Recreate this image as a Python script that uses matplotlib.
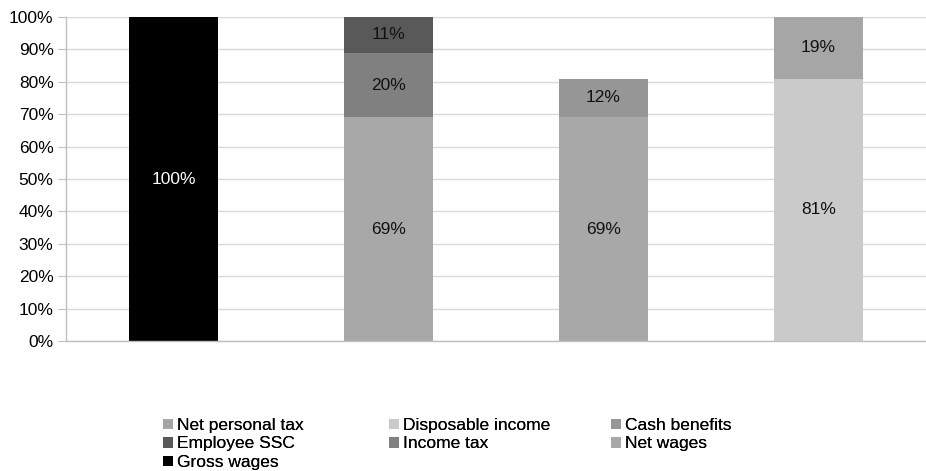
import numpy as np
import matplotlib.pyplot as plt

plt.rcParams['font.family'] = ['Liberation Sans', 'DejaVu Sans']

categories = ["Gross", "Taxes", "Benefits", "Disposable"]
series = ["Gross wages", "Net wages", "Income tax", "Employee SSC",
          "Cash benefits", "Disposable income", "Net personal tax"]
gross_wages = [100, 0, 0, 0]
net_wages = [0, 69, 69, 0]
income_tax = [0, 20, 0, 0]
employee_ssc = [0, 11, 0, 0]
cash_benefits = [0, 0, 12, 0]
disposable_income = [0, 0, 0, 81]
net_personal_tax = [0, 0, 0, 19]

values = [gross_wages, net_wages, income_tax, employee_ssc,
          cash_benefits, disposable_income, net_personal_tax]
colors = ["#000000", "#a8a8a8", "#808080", "#595959",
          "#969696", "#cacaca", "#a6a6a6"]

fig = plt.figure(figsize=(9.26, 4.71), dpi=100)
ax = fig.add_axes([66 / 926, 1 - 341 / 471, 860 / 926, 324 / 471])

x = np.arange(len(categories))
bottom = np.zeros(len(categories))
handles = {}
for name, vals, col in zip(series, values, colors):
    vals = np.array(vals, dtype=float)
    bars = ax.bar(x, vals, 0.41, bottom=bottom, color=col, label=name, zorder=2)
    handles[name] = bars
    for xi, v, b in zip(x, vals, bottom):
        if v > 0:
            tc = "white" if col == "#000000" else "#111111"
            ax.text(xi, b + v / 2, f"{v:.0f}%", ha="center", va="center",
                    fontsize=12.5, color=tc, zorder=3)
    bottom += vals

ax.set_xlim(-0.5, len(categories) - 0.5)
ax.set_ylim(0, 100)
ax.set_yticks(np.arange(0, 101, 10))
ax.set_yticklabels([f"{t}%" for t in range(0, 101, 10)], fontsize=12.5)
ax.set_xticks([])
ax.yaxis.grid(True, color="#d9d9d9", linewidth=1, zorder=0)
ax.set_axisbelow(True)
for s in ["top", "right"]:
    ax.spines[s].set_visible(False)
for s in ["left", "bottom"]:
    ax.spines[s].set_color("#bfbfbf")
    ax.spines[s].set_linewidth(1)
ax.tick_params(axis="y", length=6, color="#bfbfbf", pad=3)

# legend laid out in three fixed columns, row by row
legend_cols = [["Net personal tax", "Employee SSC", "Gross wages"],
               ["Disposable income", "Income tax"],
               ["Cash benefits", "Net wages"]]
col_x = [163, 389, 611]
for names, cx in zip(legend_cols, col_x):
    leg = fig.legend([handles[n] for n in names], names, loc="upper left",
                     bbox_to_anchor=(cx / 926, 1 - 418 / 471), frameon=False,
                     fontsize=12.5, handlelength=0.55, handleheight=0.55,
                     handletextpad=0.25, labelspacing=0.2, borderaxespad=0,
                     borderpad=0)
    fig.add_artist(leg)

fig.savefig("out.png", dpi=100)
